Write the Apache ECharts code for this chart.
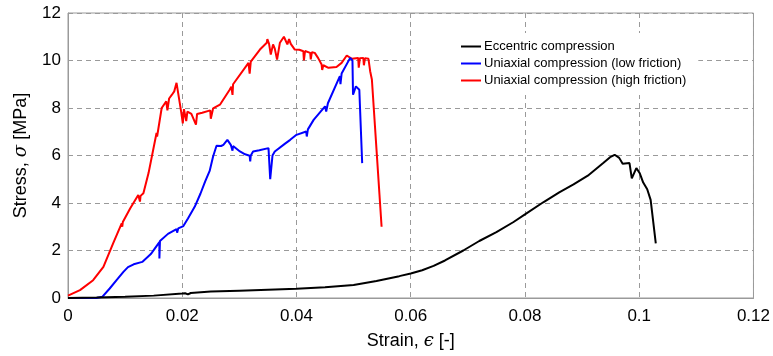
<!DOCTYPE html>
<html>
<head>
<meta charset="utf-8">
<script src="https://cdn.jsdelivr.net/npm/echarts@6/dist/echarts.min.js"></script>
<style>
  html, body { margin: 0; padding: 0; background: #fff; }
  #chart { width: 773px; height: 356px; }
</style>
</head>
<body>
<div id="chart"></div>
<script>
// eccentric compression
const ecStrain = [0, 0.005, 0.01, 0.015, 0.02, 0.0205, 0.021, 0.0215, 0.025, 0.03, 0.035, 0.04, 0.045, 0.05, 0.054, 0.058, 0.06, 0.062, 0.064, 0.066, 0.0692, 0.072, 0.075, 0.078, 0.08, 0.0832, 0.086, 0.0885, 0.091, 0.0937, 0.0949, 0.0957, 0.0965, 0.0971, 0.0983, 0.0987, 0.0995, 0.1001, 0.1007, 0.1014, 0.102, 0.1029];
const ecStress = [0, 0.02, 0.05, 0.1, 0.19, 0.2, 0.15, 0.21, 0.27, 0.31, 0.35, 0.39, 0.45, 0.55, 0.72, 0.92, 1.03, 1.17, 1.35, 1.58, 2.0, 2.4, 2.77, 3.2, 3.52, 4.03, 4.45, 4.78, 5.15, 5.68, 5.93, 6.03, 5.9, 5.65, 5.68, 5.04, 5.47, 5.25, 4.86, 4.58, 4.13, 2.3];

// uniaxial, low friction
const lowStrain = [0, 0.005, 0.006, 0.0073, 0.0085, 0.0097, 0.0105, 0.0115, 0.013, 0.0145, 0.016, 0.016, 0.0161, 0.0175, 0.019, 0.0191, 0.0193, 0.0202, 0.021, 0.0222, 0.0232, 0.024, 0.0248, 0.0254, 0.026, 0.0268, 0.0272, 0.0279, 0.0285, 0.0288, 0.0289, 0.0301, 0.031, 0.0318, 0.0319, 0.032, 0.0324, 0.0335, 0.0351, 0.0354, 0.0358, 0.0362, 0.038, 0.0389, 0.04, 0.0417, 0.0418, 0.042, 0.043, 0.045, 0.0452, 0.0455, 0.0476, 0.0477, 0.0479, 0.0494, 0.0498, 0.0499, 0.0504, 0.051, 0.0515];
const lowStress = [0, 0, 0.05, 0.4, 0.75, 1.1, 1.3, 1.42, 1.52, 1.85, 2.35, 1.66, 2.4, 2.7, 2.9, 2.75, 2.93, 3.03, 3.35, 3.85, 4.4, 4.9, 5.35, 5.96, 6.41, 6.4, 6.45, 6.66, 6.45, 6.2, 6.4, 6.17, 6.05, 5.99, 5.75, 6.0, 6.17, 6.22, 6.31, 5.0, 6.0, 6.17, 6.5, 6.66, 6.87, 7.01, 6.8, 7.1, 7.5, 8.07, 7.85, 8.2, 9.34, 9.0, 9.45, 10.11, 10.0, 8.56, 8.91, 8.77, 5.68];

// uniaxial, high friction
const highStrain = [0, 0.0021, 0.0044, 0.0062, 0.0079, 0.0094, 0.0095, 0.0096, 0.0109, 0.0123, 0.0125, 0.0126, 0.0127, 0.0132, 0.0141, 0.0155, 0.0156, 0.0164, 0.0172, 0.0174, 0.0177, 0.0182, 0.0186, 0.019, 0.0191, 0.0198, 0.0201, 0.0203, 0.0205, 0.0207, 0.0209, 0.0216, 0.0224, 0.0226, 0.0235, 0.0249, 0.025, 0.0254, 0.0266, 0.0283, 0.0286, 0.0288, 0.0289, 0.0316, 0.0318, 0.032, 0.0336, 0.0348, 0.0349, 0.0352, 0.0355, 0.0359, 0.0362, 0.0366, 0.0371, 0.0378, 0.0384, 0.0387, 0.039, 0.0397, 0.0405, 0.0412, 0.0413, 0.0415, 0.0424, 0.0425, 0.0427, 0.0432, 0.0438, 0.0444, 0.0445, 0.0447, 0.0456, 0.047, 0.0479, 0.0488, 0.0497, 0.0508, 0.0509, 0.0511, 0.0517, 0.0518, 0.052, 0.0526, 0.0529, 0.0532, 0.0549];
const highStress = [0.1, 0.33, 0.75, 1.31, 2.3, 3.14, 3.0, 3.2, 3.78, 4.34, 4.38, 4.06, 4.3, 4.41, 5.26, 6.95, 6.8, 8.0, 8.28, 7.9, 8.4, 8.56, 8.7, 9.06, 9.0, 7.86, 7.35, 7.95, 7.93, 7.45, 7.85, 7.75, 7.3, 7.75, 7.8, 7.9, 7.55, 7.98, 8.14, 8.77, 8.9, 8.55, 9.0, 9.9, 9.45, 9.95, 10.46, 10.75, 10.9, 10.7, 10.25, 10.68, 10.5, 10.04, 10.75, 11.0, 10.68, 10.9, 10.7, 10.46, 10.45, 10.39, 10.0, 10.4, 10.32, 10.05, 10.35, 10.32, 10.1, 9.83, 9.6, 9.8, 9.69, 9.73, 9.9, 10.21, 10.07, 10.11, 9.7, 10.1, 10.11, 9.8, 10.1, 10.07, 9.55, 9.2, 3.0];

const seriesNames = ['Eccentric compression', 'Uniaxial compression (low friction)', 'Uniaxial compression (high friction)'];
const seriesColors = ['#000000', '#0000ff', '#ff0000'];

function zip(xs, ys) {
    return xs.map((x, i) => [x, ys[i]]);
}

const chart = echarts.init(document.getElementById('chart'));
const allData = [zip(ecStrain, ecStress), zip(lowStrain, lowStress), zip(highStrain, highStress)];

const gray = '#9a9a9a';
const font = 'Liberation Sans, Arial, sans-serif';

chart.setOption({
    animation: false,
    backgroundColor: '#fff',
    grid: {
        left: 68, right: 19, top: 13, bottom: 58,
        show: true, borderColor: gray, borderWidth: 1
    },
    legend: {
        orient: 'vertical',
        left: 415, top: 33,
        padding: [5, 12, 6, 46],
        backgroundColor: '#fff',
        icon: 'rect',
        itemWidth: 20, itemHeight: 2, itemGap: 0,
        textStyle: { fontSize: 13, lineHeight: 15, color: '#000', fontFamily: font, padding: [2, 0, 0, -2] },
        data: seriesNames
    },
    xAxis: {
        type: 'value',
        min: 0, max: 0.12, interval: 0.02,
        name: 'Strain, {g|ϵ} [-]',
        nameLocation: 'middle',
        nameGap: 34,
        nameTextStyle: {
            fontSize: 18, color: '#000', fontFamily: font,
            rich: { g: { fontSize: 18, fontFamily: 'DejaVu Serif, serif', fontStyle: 'italic', color: '#000' } }
        },
        axisLine: { lineStyle: { color: gray } },
        axisTick: { show: false },
        axisLabel: {
            fontSize: 17, color: '#000', fontFamily: font, margin: 10,
            formatter: v => String(parseFloat(v.toFixed(4)))
        },
        splitLine: { lineStyle: { color: gray, type: [5, 4] } }
    },
    yAxis: {
        type: 'value',
        min: 0, max: 12, interval: 2,
        name: 'Stress, {g|σ} [MPa]',
        nameLocation: 'middle',
        nameGap: 38,
        nameTextStyle: {
            fontSize: 18, color: '#000', fontFamily: font,
            rich: { g: { fontSize: 18, fontFamily: 'DejaVu Serif, serif', fontStyle: 'italic', color: '#000' } }
        },
        axisLine: { show: true, lineStyle: { color: gray } },
        axisTick: { show: false },
        axisLabel: { fontSize: 17, color: '#000', fontFamily: font, margin: 7 },
        splitLine: { lineStyle: { color: gray, type: [5, 4] } }
    },
    series: allData.map((d, i) => ({
        name: seriesNames[i],
        type: 'line',
        data: d,
        symbol: 'none',
        color: seriesColors[i],
        lineStyle: { width: 2, color: seriesColors[i] },
        z: 3 - i
    }))
});
</script>
</body>
</html>
